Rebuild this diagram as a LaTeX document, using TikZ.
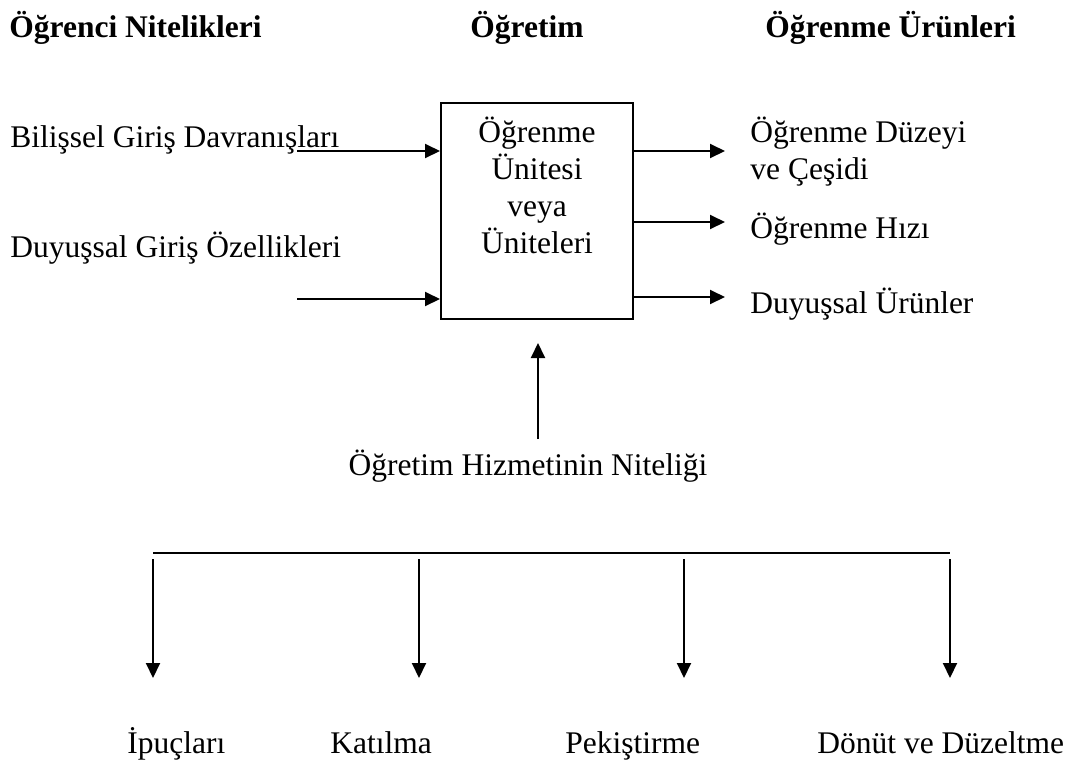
\documentclass[tikz,border=0pt]{standalone}
\usepackage{fontspec}
\setmainfont{Liberation Serif}
\usetikzlibrary{positioning, arrows.meta}

\tikzset{
  txt/.style={inner sep=0pt, font={\fontsize{15.75pt}{18.35pt}\selectfont}},
  head/.style={txt, font={\fontsize{15.75pt}{18.35pt}\selectfont\bfseries}},
  unitbox/.style={draw, line width=1pt, minimum width=96pt, minimum height=108pt, inner sep=0pt},
  conn/.style={line width=1pt},
  arr/.style={conn, -{Triangle[length=7.5pt,width=7pt]}}
}

\begin{document}
\begin{tikzpicture}[x=0.5pt, y=-0.5pt]
    \useasboundingbox (0,0) rectangle (1078,762);
    % headings
    \node[head, anchor=base west] (hstud) at (9,37) {Öğrenci Nitelikleri};
    \node[head, anchor=base west] (hinst) at (470,37) {Öğretim};
    \node[head, anchor=base west] (hprod) at (765,37) {Öğrenme Ürünleri};
    % learner inputs
    \node[txt, anchor=base west] (cog) at (10,147) {Bilişsel Giriş Davranışları};
    \node[txt, anchor=base west] (aff) at (10,257) {Duyuşsal Giriş Özellikleri};
    \coordinate (cogin) at (297,151);
    \coordinate (affin) at (297,299);
    % unit (base = last line)
    \node[unitbox] (unit) at (537,211) {};
    \node[txt, align=center, anchor=base] (unittext) at (537,253) {Öğrenme\\Ünitesi\\veya\\Üniteleri};
    \draw[arr] (cogin) -- (cogin -| unit.west);
    \draw[arr] (affin) -- (affin -| unit.west);
    % outcomes
    \node[txt, align=left, anchor=base west] (level) at (750,179) {Öğrenme Düzeyi\\ve Çeşidi};
    \node[txt, anchor=base west] (speed) at (750,238) {Öğrenme Hızı};
    \node[txt, anchor=base west] (affout) at (750,313) {Duyuşsal Ürünler};
    \foreach \n/\y in {level/151, speed/222, affout/297} {
        \coordinate (\n-tip) at (725,\y);
        \draw[arr] (\n-tip -| unit.east) -- (\n-tip);
    }
    % quality of instruction
    \node[txt, anchor=base] (quality) at (528,475) {Öğretim Hizmetinin Niteliği};
    \coordinate (qtail) at (538,439);
    \draw[arr] (qtail) -- (qtail |- 0,343);
    % components
    \coordinate (barL) at (153,553);
    \coordinate (barR) at (950,553);
    \draw[conn] (barL) -- (barR);
    \foreach \x/\n in {153/cue, 419/part, 684/reinf, 950/fb} {
        \coordinate (\n-top) at (\x,559);
        \coordinate (\n-tip) at (\x,678);
        \draw[arr] (\n-top) -- (\n-tip);
    }
    \node[txt, anchor=base west] (cue) at (127,753) {İpuçları};
    \node[txt, anchor=base west] (part) at (330,753) {Katılma};
    \node[txt, anchor=base west] (reinf) at (565,753) {Pekiştirme};
    \node[txt, anchor=base west] (fb) at (817,753) {Dönüt ve Düzeltme};
\end{tikzpicture}
\end{document}
